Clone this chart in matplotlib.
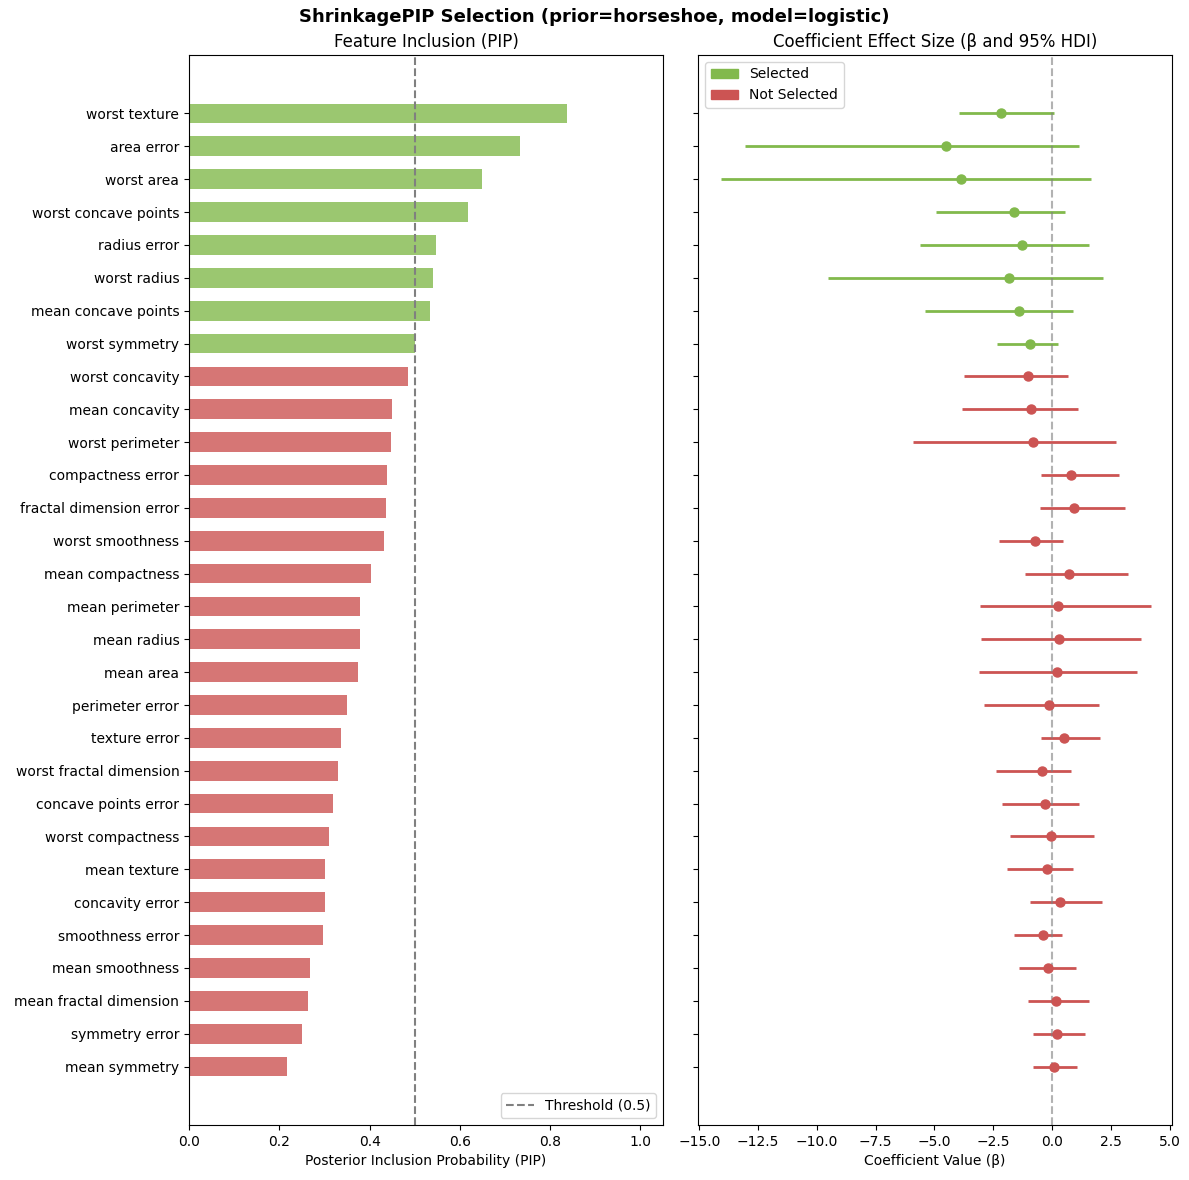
import numpy as np
import matplotlib.pyplot as plt
from matplotlib.patches import Patch

# features sorted by PIP, top to bottom
features = [
    "worst texture", "area error", "worst area", "worst concave points",
    "radius error", "worst radius", "mean concave points", "worst symmetry",
    "worst concavity", "mean concavity", "worst perimeter", "compactness error",
    "fractal dimension error", "worst smoothness", "mean compactness",
    "mean perimeter", "mean radius", "mean area", "perimeter error",
    "texture error", "worst fractal dimension", "concave points error",
    "worst compactness", "mean texture", "concavity error", "smoothness error",
    "mean smoothness", "mean fractal dimension", "symmetry error", "mean symmetry",
]
pip = [
    0.837, 0.733, 0.650, 0.619, 0.548, 0.540, 0.533, 0.501,
    0.485, 0.449, 0.447, 0.438, 0.436, 0.432, 0.403,
    0.379, 0.379, 0.374, 0.350, 0.337, 0.330, 0.319,
    0.311, 0.302, 0.302, 0.297, 0.267, 0.264, 0.251, 0.216,
]
beta_mean = [
    -2.17, -4.49, -3.89, -1.60, -1.26, -1.81, -1.39, -0.92,
    -1.01, -0.88, -0.79, 0.82, 0.92, -0.71, 0.73,
    0.27, 0.31, 0.23, -0.11, 0.52, -0.41, -0.28,
    -0.03, -0.20, 0.34, -0.38, -0.16, 0.18, 0.23, 0.10,
]
hdi_low = [
    -3.96, -13.05, -14.07, -4.93, -5.62, -9.53, -5.39, -2.35,
    -3.75, -3.84, -5.92, -0.48, -0.52, -2.26, -1.16,
    -3.07, -3.03, -3.11, -2.90, -0.48, -2.39, -2.11,
    -1.80, -1.92, -0.92, -1.60, -1.42, -1.03, -0.82, -0.82,
]
hdi_high = [
    0.07, 1.15, 1.66, 0.55, 1.57, 2.17, 0.89, 0.25,
    0.68, 1.10, 2.72, 2.84, 3.10, 0.47, 3.23,
    4.22, 3.78, 3.61, 2.00, 2.04, 0.81, 1.15,
    1.78, 0.89, 2.12, 0.42, 1.02, 1.57, 1.40, 1.06,
]

THRESHOLD = 0.5
GREEN = "#82b94c"
RED = "#cc5453"

y = np.arange(len(features))
selected = np.array(pip) >= THRESHOLD
colors = [GREEN if s else RED for s in selected]

fig, (ax1, ax2) = plt.subplots(1, 2, figsize=(11.89, 11.8), dpi=100, sharey=True)
fig.subplots_adjust(left=0.159, right=0.9857, top=0.9534, bottom=0.0466, wspace=0.074)

# left panel: PIP bars
ax1.barh(y, pip, height=0.6, color=colors, alpha=0.8)
ax1.axvline(THRESHOLD, color="gray", linestyle="--", linewidth=1.5,
            label="Threshold (0.5)")
ax1.set_yticks(y)
ax1.set_yticklabels(features)
ax1.invert_yaxis()
ax1.set_xlim(0, 1.05)
ax1.set_xlabel("Posterior Inclusion Probability (PIP)")
ax1.set_title("Feature Inclusion (PIP)")
ax1.legend(loc="lower right")

# right panel: coefficient means with HDI
for i in range(len(features)):
    ax2.errorbar(beta_mean[i], y[i],
                 xerr=[[beta_mean[i] - hdi_low[i]], [hdi_high[i] - beta_mean[i]]],
                 fmt="o", color=colors[i], markersize=6.5, elinewidth=2, capsize=0)
ax2.axvline(0, color="gray", linestyle="--", linewidth=1.5, alpha=0.6)
ax2.set_xlim(-15.05, 5.1)
ax2.tick_params(axis="y", labelleft=False)
ax2.set_xlabel("Coefficient Value (β)")
ax2.set_title("Coefficient Effect Size (β and 95% HDI)")
handles = [Patch(color=GREEN, label="Selected"), Patch(color=RED, label="Not Selected")]
ax2.legend(handles=handles, loc="upper left")

fig.suptitle("ShrinkagePIP Selection (prior=horseshoe, model=logistic)",
             fontweight="bold", fontsize=13, y=0.9856, va="center")
plt.savefig("out.png")
